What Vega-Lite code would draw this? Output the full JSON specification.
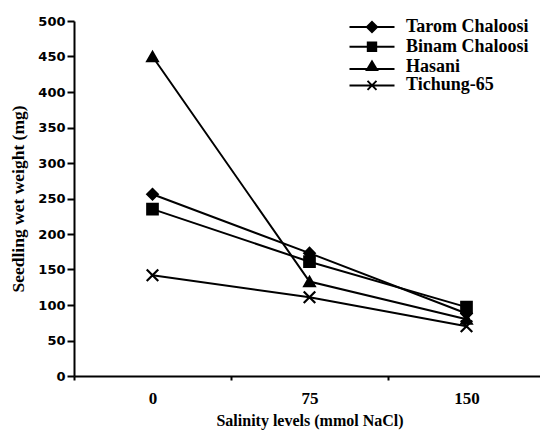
{
  "$schema": "https://vega.github.io/schema/vega-lite/v6.json",
  "autosize": "none",
  "padding": {"left": 74, "top": 21, "right": 0, "bottom": 56},
  "width": 466,
  "height": 355,
  "background": "white",
  "config": {
    "view": {"stroke": null},
    "axis": {"domainColor": "black", "tickColor": "black", "labelColor": "black", "titleColor": "black", "grid": false}
  },
  "data": {
    "values": [
      {"salinity": "0", "variety": "Tarom Chaloosi", "weight": 256},
      {"salinity": "75", "variety": "Tarom Chaloosi", "weight": 173},
      {"salinity": "150", "variety": "Tarom Chaloosi", "weight": 88},
      {"salinity": "0", "variety": "Binam Chaloosi", "weight": 235},
      {"salinity": "75", "variety": "Binam Chaloosi", "weight": 161},
      {"salinity": "150", "variety": "Binam Chaloosi", "weight": 97},
      {"salinity": "0", "variety": "Hasani", "weight": 450},
      {"salinity": "75", "variety": "Hasani", "weight": 133},
      {"salinity": "150", "variety": "Hasani", "weight": 80},
      {"salinity": "0", "variety": "Tichung-65", "weight": 142},
      {"salinity": "75", "variety": "Tichung-65", "weight": 111},
      {"salinity": "150", "variety": "Tichung-65", "weight": 70}
    ]
  },
  "encoding": {
    "x": {
      "field": "salinity",
      "type": "ordinal",
      "sort": ["0", "75", "150"],
      "scale": {"type": "band", "paddingInner": 0, "paddingOuter": 0, "range": [0, 471]},
      "axis": {
        "title": "Salinity levels (mmol NaCl)",
        "labelAngle": 0,
        "tickBand": "extent",
        "domainWidth": 2,
        "tickWidth": 2,
        "tickSize": 4,
        "labelFont": "Liberation Serif",
        "labelFontWeight": "bold",
        "labelFontSize": 17,
        "labelPadding": 10,
        "titleFont": "Liberation Serif",
        "titleFontWeight": "bold",
        "titleFontSize": 16,
        "titlePadding": 6
      }
    },
    "y": {
      "field": "weight",
      "type": "quantitative",
      "scale": {"domain": [0, 500], "nice": false, "zero": true},
      "axis": {
        "title": "Seedling wet weight (mg)",
        "values": [0, 50, 100, 150, 200, 250, 300, 350, 400, 450, 500],
        "domainWidth": 2,
        "tickWidth": 2,
        "tickSize": 7,
        "labelFont": "DejaVu Sans",
        "labelFontWeight": "bold",
        "labelFontSize": 13,
        "labelPadding": 2,
        "titleFont": "Liberation Serif",
        "titleFontWeight": "bold",
        "titleFontSize": 17.5,
        "titlePadding": 10
      }
    }
  },
  "layer": [
    {
      "mark": {"type": "line", "color": "black", "strokeWidth": 2},
      "encoding": {"detail": {"field": "variety"}}
    },
    {
      "mark": {"type": "point", "filled": true, "color": "black", "stroke": "black", "strokeWidth": 2.2, "size": 110, "opacity": 1},
      "encoding": {
        "shape": {
          "field": "variety",
          "type": "nominal",
          "scale": {
            "domain": ["Tarom Chaloosi", "Binam Chaloosi", "Hasani", "Tichung-65"],
            "range": ["diamond", "square", "triangle-up", "M-1.1,-1.1L1.1,1.1M1.1,-1.1L-1.1,1.1"]
          },
          "legend": null
        }
      }
    },
    {
      "transform": [{"filter": "datum.weight < 0"}],
      "mark": {"type": "point", "filled": false, "color": "black", "strokeWidth": 2, "opacity": 1},
      "encoding": {
        "shape": {
          "field": "variety",
          "type": "nominal",
          "scale": {
            "domain": ["Tarom Chaloosi", "Binam Chaloosi", "Hasani", "Tichung-65"],
            "range": [
              "M-3.75,0H3.75M0,-0.85L0.85,0L0,0.85L-0.85,0ZM0,-0.55L0.55,0L0,0.55L-0.55,0ZM0,-0.25L0.25,0L0,0.25L-0.25,0Z",
              "M-3.75,0H3.75M-0.7,-0.7H0.7V0.7H-0.7ZM-0.4,-0.4H0.4V0.4H-0.4ZM-0.1,-0.1H0.1V0.1H-0.1Z",
              "M-3.75,0.4H3.75M0,-0.85L0.85,0.55H-0.85ZM0,-0.48L0.51,0.36H-0.51ZM0,-0.15L0.21,0.2H-0.21Z",
              "M-3.75,0H3.75M-0.75,-0.75L0.75,0.75M0.75,-0.75L-0.75,0.75"
            ]
          },
          "legend": {
            "title": null,
            "orient": "none",
            "legendX": 289,
            "legendY": -3,
            "padding": 0,
            "symbolSize": 144,
            "symbolStrokeWidth": 2,
            "symbolStrokeColor": "black",
            "symbolFillColor": "black",
            "symbolOpacity": 1,
            "labelOffset": 25,
            "labelFont": "Liberation Serif",
            "labelFontWeight": "bold",
            "labelFontSize": 18,
            "labelColor": "black",
            "rowPadding": 0.8
          }
        }
      }
    }
  ],
  "resolve": {"scale": {"shape": "independent"}, "legend": {"shape": "independent"}}
}
